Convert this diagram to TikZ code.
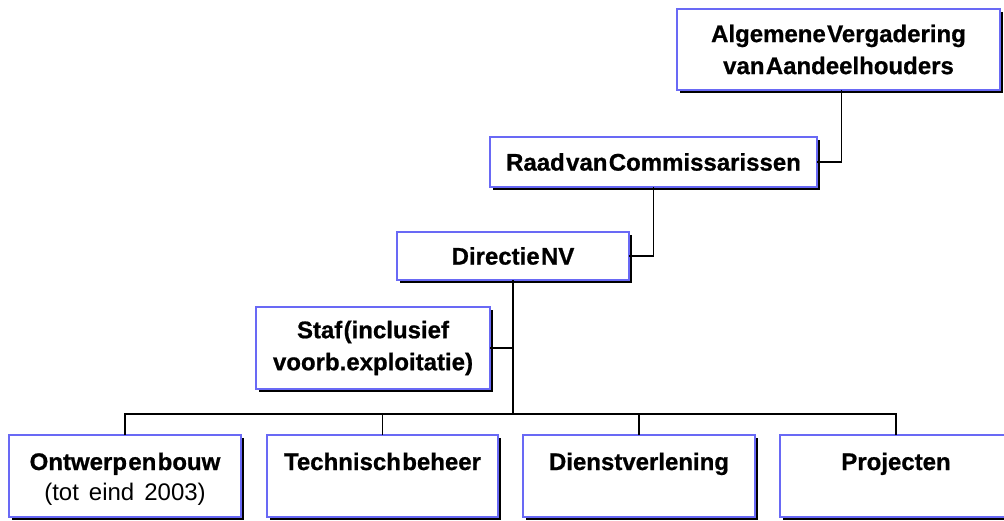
\documentclass[tikz,border=0pt]{standalone}
\usepackage{fontspec}
\setmainfont{Liberation Sans}
\newfontfamily\tb{Liberation Sans}[WordSpace=0.2,BoldFeatures={FakeBold=0.8}]
\usetikzlibrary{shadows}
\definecolor{bord}{RGB}{105,105,245}
\begin{document}
\begin{tikzpicture}[x=1pt,y=-1pt,
  box/.style={draw=bord, line width=1.4pt, fill=white,
    drop shadow={shadow xshift=3pt, shadow yshift=-3pt, fill=black, opacity=1},
    inner sep=0pt, outer sep=0pt, anchor=north west,
    font=\tb\bfseries\fontsize{24}{32}\selectfont, align=center},
  btxt/.style={anchor=base, inner sep=0pt, font=\tb\bfseries\fontsize{24}{30}\selectfont},
  rtxt/.style={anchor=base, inner sep=0pt, font=\fontsize{24}{30}\selectfont},
  conn/.style={draw=black, line width=1.3pt}]
\useasboundingbox (0,0) rectangle (1004,520);
\clip (0,0) rectangle (1004,520);
\node[box, minimum width=323pt, minimum height=81pt] (av) at (677,9) {Algemene Vergadering\\van Aandeelhouders};
\node[box, minimum width=327pt, minimum height=50pt] (raad) at (490,137) {Raad van Commissarissen};
\node[box, minimum width=232pt, minimum height=48pt] (dir) at (397,232) {Directie NV};
\node[box, minimum width=234pt, minimum height=82pt] (staf) at (256,307) {Staf (inclusief\\voorb.exploitatie)};
\node[box, minimum width=232pt, minimum height=82pt] (ont) at (9,435) {};
\node[box, minimum width=231pt, minimum height=82pt] (tech) at (267,435) {};
\node[box, minimum width=232pt, minimum height=82pt] (dien) at (523,435) {};
\node[box, minimum width=232pt, minimum height=82pt] (proj) at (780,435) {};
\node[btxt] (ontT) at ([yshift=-35pt]ont.north) {Ontwerp en bouw};
\node[rtxt] (ontR) at ([yshift=-65pt]ont.north) {(tot\hspace{10pt}eind\hspace{10pt}2003)};
\node[btxt] (techT) at ([yshift=-35pt]tech.north) {Technisch beheer};
\node[btxt] (dienT) at ([yshift=-35pt]dien.north) {Dienstverlening};
\node[btxt] (projT) at ([yshift=-35pt]proj.north) {Projecten};
\coordinate (bus) at (dir.south |- 0,414);
\draw[conn] ([xshift=3pt]av.south) |- (raad.east);
\draw[conn] (raad.south) |- (dir.east);
\draw[conn] (dir.south) -- (bus);
\draw[conn] (staf.east) -- (staf.east -| dir.south);
\draw[conn] (ont.north) |- (bus);
\draw[conn] (tech.north) |- (bus);
\draw[conn] (dien.north) |- (bus);
\draw[conn] (proj.north) |- (bus);
\end{tikzpicture}
\end{document}
